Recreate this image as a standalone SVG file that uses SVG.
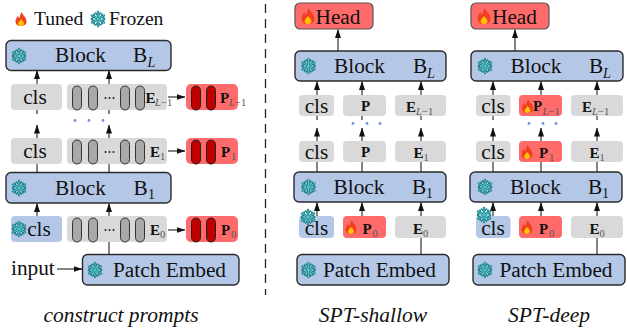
<svg xmlns="http://www.w3.org/2000/svg" width="627" height="328" viewBox="0 0 627 328">
<style>
text{font-family:"Liberation Serif","Times New Roman",serif;fill:#111}
.blk{fill:#b4c7e7;stroke:#2b2b2b;stroke-width:1.4}
.blue{fill:#b4c7e7}
.gray{fill:#d9d9d9}
.red{fill:#ff6b6b}
.head{fill:#ff6b6b;stroke:#555;stroke-width:1.2}
.ov{fill:#a9a9a9;stroke:#333;stroke-width:1}
.rov{fill:#c00000;stroke:#222;stroke-width:1}
.t{font-size:21.300px}
.l{font-size:19.600px}
.m{font-size:21.300px;text-anchor:middle}
.b{font-weight:bold;font-size:15px}
.s{font-size:10.500px;fill:#555}
.si{font-size:10.500px;font-style:italic;fill:#555}
.cap{font-size:21.500px;font-style:italic;text-anchor:middle}
.c{fill:none;stroke:#333;stroke-width:1.200}
.dot{fill:#6f94dc}
</style>
<defs>
<marker id="a" viewBox="0 0 9 6" refX="8.500" refY="3" markerWidth="9" markerHeight="6" markerUnits="userSpaceOnUse" orient="auto"><path d="M0 0L9 3L0 6Z" fill="#111"/></marker>
<g id="snow" fill="none" stroke-linecap="round">
<g stroke="#1c7f86" stroke-width="2.400"><path d="M0-7V7M-6-3.500L6 3.500M-6 3.500L6-3.500"/><path d="M-2.500-6L0-3.500L2.500-6M-2.500 6L0 3.500L2.500 6M-6.500-.5L-3.500-2L-4-5M6.500-.5L3.500-2L4-5M-6.500 .5L-3.500 2L-4 5M6.500 .5L3.500 2L4 5" stroke-width="1.600"/></g>
<g stroke="#52d5da" stroke-width=".9"><path d="M0-7V7M-6-3.500L6 3.500M-6 3.500L6-3.500"/></g>
</g>
<g id="fire">
<path d="M0.500-7C1.500-4 5.500-2 5.500 2.500C5.500 5.500 3 7 0 7C-3 7-5.500 5.500-5.500 2.500C-5.500 0-4-1.500-3.500-3C-2.500-2-2-1.500-1.500-1C-1-3-.5-5 .5-7Z" fill="#f0401e"/>
<path d="M0 0C1 1.500 3 2.500 3 4.500C3 6 1.500 7 0 7C-1.500 7-3 6-3 4.500C-3 3-1 2 0 0Z" fill="#ffc107"/>
</g>
<g id="ovs"><rect x="0" y="0" width="9" height="24" rx="4.500" class="ov"/><rect x="16" y="0" width="9" height="24" rx="4.500" class="ov"/><rect x="48" y="0" width="9" height="24" rx="4.500" class="ov"/><rect x="63" y="0" width="9" height="24" rx="4.500" class="ov"/><circle cx="33" cy="12" r="1" fill="#222"/><circle cx="37" cy="12" r="1" fill="#222"/><circle cx="41" cy="12" r="1" fill="#222"/></g>
<g id="rovs"><rect x="0" y="0" width="9" height="24" rx="4.500" class="rov"/><rect x="15" y="0" width="9" height="24" rx="4.500" class="rov"/></g>
</defs>

<g id="legend">
<use href="#fire" x="21" y="19"/><text class="l" x="34" y="25">Tuned</text>
<use href="#snow" x="98" y="19"/><text class="l" x="109" y="25">Frozen</text>
</g>

<g id="connectors">
<path class="c" marker-end="url(#a)" d="M37 84V70.500"/><path class="c" marker-end="url(#a)" d="M109 84V70.500"/>
<path class="c" d="M37 110V114M109 110V114"/>
<path class="c" marker-end="url(#a)" d="M37 138V125"/><path class="c" marker-end="url(#a)" d="M109 138V125"/>
<path class="c" d="M37 164V172M109 164V172"/>
<path class="c" marker-end="url(#a)" d="M37 216V203.500"/><path class="c" marker-end="url(#a)" d="M109 216V203.500"/>
<path class="c" d="M109 242V254"/>
<path class="c" marker-end="url(#a)" d="M168 97H185"/><path class="c" marker-end="url(#a)" d="M168 151H185"/><path class="c" marker-end="url(#a)" d="M168 230H185"/>
<path class="c" marker-end="url(#a)" d="M57 269H82"/>
<path class="c" marker-end="url(#a)" d="M338 51V29.500"/><path class="c" marker-end="url(#a)" d="M515 51V29.500"/>
<g id="sh">
<path class="c" marker-end="url(#a)" d="M317 95V81.500"/><path class="c" marker-end="url(#a)" d="M362 95V81.500"/><path class="c" marker-end="url(#a)" d="M421 95V81.500"/>
<path class="c" d="M317 116V120M362 116V120M421 116V120"/>
<path class="c" marker-end="url(#a)" d="M317 141V128"/><path class="c" marker-end="url(#a)" d="M362 141V128"/><path class="c" marker-end="url(#a)" d="M421 141V128"/>
<path class="c" d="M317 162V172M362 162V172M421 162V172"/>
<path class="c" marker-end="url(#a)" d="M317 216V202.500"/><path class="c" marker-end="url(#a)" d="M362 216V202.500"/><path class="c" marker-end="url(#a)" d="M421 216V202.500"/>
<path class="c" d="M421 238V254"/>
</g>
<g id="dp">
<path class="c" marker-end="url(#a)" d="M493 95V81.500"/><path class="c" marker-end="url(#a)" d="M541 95V81.500"/><path class="c" marker-end="url(#a)" d="M597 95V81.500"/>
<path class="c" d="M493 116V120M597 116V120"/>
<path class="c" marker-end="url(#a)" d="M493 141V128"/><path class="c" marker-end="url(#a)" d="M541 141V128"/><path class="c" marker-end="url(#a)" d="M597 141V128"/>
<path class="c" d="M493 162V172M541 162V172M597 162V172"/>
<path class="c" marker-end="url(#a)" d="M493 216V202.500"/><path class="c" marker-end="url(#a)" d="M541 216V202.500"/><path class="c" marker-end="url(#a)" d="M597 216V202.500"/>
<path class="c" d="M597 238V254"/>
</g>
</g>

<g id="divider"><path d="M265.500 4V295" fill="none" stroke="#222" stroke-width="1.300" stroke-dasharray="9 6"/></g>

<g id="c-blockL"><rect class="blk" x="6" y="40.500" width="165" height="30" rx="5"/><use href="#snow" x="19" y="56"/><text class="m" x="80.500" y="62">Block</text><text class="t" x="133" y="62">B</text><text x="147.500" y="67" font-size="14" font-style="italic">L</text></g>
<g id="c-clsL"><rect class="gray" x="11" y="84" width="51" height="26" rx="4"/><text class="m" x="35" y="104">cls</text></g>
<g id="c-tokL"><rect class="gray" x="67" y="84" width="100" height="26" rx="4"/><use href="#ovs" x="72.500" y="86"/><text class="b" x="145.500" y="103">E</text><text class="si" x="155" y="106">L</text><text class="s" x="161" y="106">−1</text></g>
<g id="c-pL"><rect class="red" x="186" y="84" width="52" height="26" rx="5"/><use href="#rovs" x="191.500" y="86"/><text class="b" x="220" y="103">P</text><text class="si" x="229" y="106">L</text><text class="s" x="235" y="106">−1</text></g>
<g id="c-dots"><circle class="dot" cx="75" cy="120.500" r="1.400"/><circle class="dot" cx="89" cy="120.500" r="1.400"/><circle class="dot" cx="103" cy="120.500" r="1.400"/></g>
<g id="c-cls1"><rect class="gray" x="11" y="138" width="51" height="26" rx="4"/><text class="m" x="35" y="158">cls</text></g>
<g id="c-tok1"><rect class="gray" x="67" y="138" width="100" height="26" rx="4"/><use href="#ovs" x="72.500" y="140"/><text class="b" x="150" y="157">E</text><text class="s" x="160" y="160">1</text></g>
<g id="c-p1"><rect class="red" x="186" y="138" width="52" height="26" rx="5"/><use href="#rovs" x="191.500" y="140"/><text class="b" x="221" y="157">P</text><text class="s" x="231" y="160">1</text></g>
<g id="c-block1"><rect class="blk" x="6" y="172.500" width="165" height="30.500" rx="5"/><use href="#snow" x="19" y="188"/><text class="m" x="80.500" y="195">Block</text><text class="t" x="133.500" y="195">B</text><text x="148" y="199" font-size="14">1</text></g>
<g id="c-cls0"><rect class="blue" x="11" y="216" width="51" height="26" rx="4"/><use href="#snow" x="19" y="229"/><text class="m" x="39" y="236">cls</text></g>
<g id="c-tok0"><rect class="gray" x="67" y="216" width="100" height="26" rx="4"/><use href="#ovs" x="72.500" y="218"/><text class="b" x="150" y="235">E</text><text class="s" x="160" y="238">0</text></g>
<g id="c-p0"><rect class="red" x="186" y="216" width="52" height="26" rx="5"/><use href="#rovs" x="191.500" y="218"/><text class="b" x="221" y="235">P</text><text class="s" x="231" y="238">0</text></g>
<g id="c-input"><text class="t" x="11" y="275">input</text></g>
<g id="c-patch"><rect class="blk" x="82.500" y="254.500" width="156.500" height="30.500" rx="5"/><use href="#snow" x="95" y="270"/><text class="m" x="169.500" y="277">Patch Embed</text></g>
<g id="c-cap"><text class="cap" x="121" y="322">construct prompts</text></g>

<g id="s-head"><rect class="head" x="295" y="3" width="78" height="26" rx="5"/><use href="#fire" transform="translate(308 16) scale(1.150)"/><text class="m" x="338" y="24">Head</text></g>
<g id="s-blockL"><rect class="blk" x="295" y="51" width="151" height="30" rx="5"/><use href="#snow" x="308.500" y="66"/><text class="m" x="359.500" y="73">Block</text><text class="t" x="413" y="73">B</text><text x="427" y="78" font-size="14" font-style="italic">L</text></g>
<g id="s-clsL"><rect class="gray" x="299" y="95" width="35" height="21" rx="4"/><text class="m" x="316.500" y="113">cls</text></g>
<g id="s-pL"><rect class="gray" x="343" y="95" width="43" height="21" rx="4"/><text class="b" x="361" y="111">P</text></g>
<g id="s-eL"><rect class="gray" x="395" y="95" width="51" height="21" rx="4"/><text class="b" x="406" y="112">E</text><text class="si" x="416" y="115">L</text><text class="s" x="422" y="115">−1</text></g>
<g id="s-dots"><circle class="dot" cx="353" cy="123.500" r="1.400"/><circle class="dot" cx="367" cy="123.500" r="1.400"/><circle class="dot" cx="380" cy="123.500" r="1.400"/></g>
<g id="s-cls1"><rect class="gray" x="299" y="141" width="35" height="21" rx="4"/><text class="m" x="316.500" y="159">cls</text></g>
<g id="s-p1"><rect class="gray" x="343" y="141" width="43" height="21" rx="4"/><text class="b" x="361" y="157">P</text></g>
<g id="s-e1"><rect class="gray" x="395" y="141" width="51" height="21" rx="4"/><text class="b" x="413.500" y="158">E</text><text class="s" x="423.500" y="161">1</text></g>
<g id="s-block1"><rect class="blk" x="294" y="172" width="152" height="30" rx="5"/><use href="#snow" x="308.500" y="187"/><text class="m" x="359" y="194">Block</text><text class="t" x="412" y="194">B</text><text x="426" y="198" font-size="14">1</text></g>
<g id="s-cls0"><rect class="blue" x="299" y="216" width="35" height="22" rx="4"/><text class="m" x="316.500" y="235">cls</text><use href="#snow" x="308" y="217"/></g>
<g id="s-p0"><rect class="red" x="343" y="216" width="43" height="22" rx="4"/><use href="#fire" x="351" y="227"/><text class="b" x="362.500" y="234">P</text><text class="s" x="372.500" y="237">0</text></g>
<g id="s-e0"><rect class="gray" x="395" y="216" width="51" height="22" rx="4"/><text class="b" x="413" y="234">E</text><text class="s" x="423" y="237">0</text></g>
<g id="s-patch"><rect class="blk" x="297" y="254.500" width="152" height="30.500" rx="5"/><use href="#snow" x="308.500" y="270"/><text class="m" x="379.500" y="276.500">Patch Embed</text></g>
<g id="s-cap"><text class="cap" x="373" y="322">SPT-shallow</text></g>

<g id="d-head"><rect class="head" x="471" y="3" width="78" height="26" rx="5"/><use href="#fire" transform="translate(484 16) scale(1.150)"/><text class="m" x="514.500" y="24">Head</text></g>
<g id="d-blockL"><rect class="blk" x="471" y="51" width="152" height="30" rx="5"/><use href="#snow" x="485" y="66"/><text class="m" x="536" y="73">Block</text><text class="t" x="589" y="73">B</text><text x="603" y="78" font-size="14" font-style="italic">L</text></g>
<g id="d-clsL"><rect class="gray" x="476" y="95" width="34.500" height="21" rx="4"/><text class="m" x="493" y="113">cls</text></g>
<g id="d-pL"><rect class="red" x="519" y="95" width="43" height="21" rx="4"/><use href="#fire" x="527.500" y="106"/><text class="b" x="533" y="111">P</text><text class="si" x="542.500" y="115">L</text><text class="s" x="548.500" y="115">−1</text></g>
<g id="d-eL"><rect class="gray" x="571" y="95" width="52" height="21" rx="4"/><text class="b" x="582" y="112">E</text><text class="si" x="592" y="115">L</text><text class="s" x="598" y="115">−1</text></g>
<g id="d-dots"><circle class="dot" cx="529" cy="123.500" r="1.400"/><circle class="dot" cx="543" cy="123.500" r="1.400"/><circle class="dot" cx="556" cy="123.500" r="1.400"/></g>
<g id="d-cls1"><rect class="gray" x="476" y="141" width="34.500" height="21" rx="4"/><text class="m" x="493" y="159">cls</text></g>
<g id="d-p1"><rect class="red" x="519" y="141" width="43" height="21" rx="4"/><use href="#fire" x="527" y="152"/><text class="b" x="539" y="158">P</text><text class="s" x="549" y="161">1</text></g>
<g id="d-e1"><rect class="gray" x="571" y="141" width="52" height="21" rx="4"/><text class="b" x="589.500" y="158">E</text><text class="s" x="599.500" y="161">1</text></g>
<g id="d-block1"><rect class="blk" x="470" y="172" width="152" height="30" rx="5"/><use href="#snow" x="485" y="187"/><text class="m" x="535.500" y="194">Block</text><text class="t" x="588" y="194">B</text><text x="602" y="198" font-size="14">1</text></g>
<g id="d-cls0"><rect class="blue" x="476" y="216" width="34.500" height="22" rx="4"/><text class="m" x="493" y="235">cls</text><use href="#snow" x="484" y="215"/></g>
<g id="d-p0"><rect class="red" x="519" y="216" width="43" height="22" rx="4"/><use href="#fire" x="527" y="227"/><text class="b" x="539" y="234">P</text><text class="s" x="549" y="237">0</text></g>
<g id="d-e0"><rect class="gray" x="571" y="216" width="52" height="22" rx="4"/><text class="b" x="589.500" y="234">E</text><text class="s" x="599.500" y="237">0</text></g>
<g id="d-patch"><rect class="blk" x="473" y="254.500" width="152" height="30.500" rx="5"/><use href="#snow" x="485" y="270"/><text class="m" x="556" y="276.500">Patch Embed</text></g>
<g id="d-cap"><text class="cap" x="549" y="322">SPT-deep</text></g>
</svg>
